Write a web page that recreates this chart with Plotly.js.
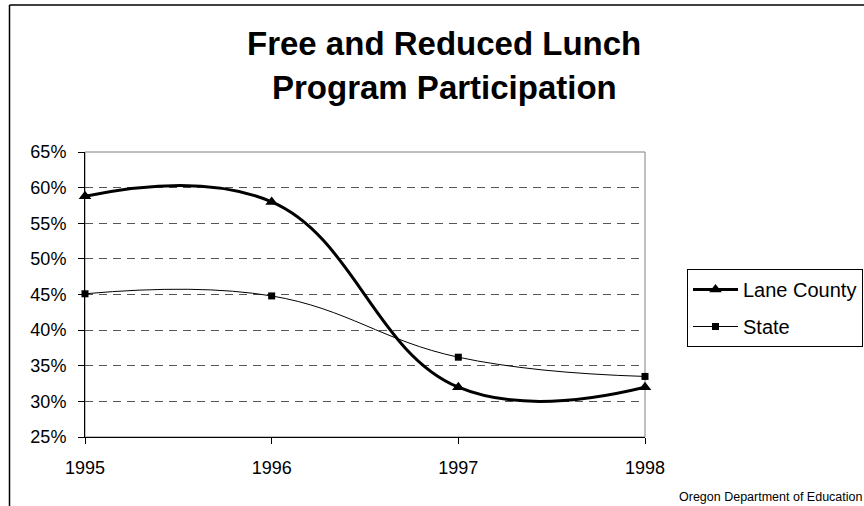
<!DOCTYPE html>
<html>
<head>
<meta charset="utf-8">
<script src="https://cdn.plot.ly/plotly-3.0.1.min.js"></script>
<style>html,body{margin:0;padding:0;background:#fff;}#chart{width:864px;height:506px;}</style>
</head>
<body>
<div id="chart"></div>
<script>
var years = [1995, 1996, 1997, 1998];
var yearLabels = ["1995", "1996", "1997", "1998"];
var laneCounty = [58.8, 58.0, 32.0, 32.0];
var state = [45.1, 44.8, 36.2, 33.5];
var yTickVals = [25, 30, 35, 40, 45, 50, 55, 60, 65];
var yTickText = ["25%", "30%", "35%", "40%", "45%", "50%", "55%", "60%", "65%"];
var titleLine1 = "Free and Reduced Lunch";
var titleLine2 = "Program Participation";
var sourceText = "Oregon Department of Education";

var FONT = "Liberation Sans, Arial, sans-serif";

// plot area in pixels: x 85..645, y 152..437
var L = 85, R = 645, T = 152, B = 437;
function px(x) { return (x - L) / (R - L); }
function py(y) { return (B - y) / (B - T); }

var traces = [
  {
    x: years, y: laneCounty, name: "Lane County", legendgroup: "a",
    mode: "lines+markers", type: "scatter",
    line: {color: "#000", width: 3, shape: "spline", smoothing: 1.2},
    marker: {symbol: "triangle-up", size: 11, color: "#000"},
    cliponaxis: false, hoverinfo: "skip"
  },
  {
    x: years, y: state, name: "State", legendgroup: "b",
    mode: "lines+markers", type: "scatter",
    line: {color: "#000", width: 1, shape: "spline", smoothing: 1.2},
    marker: {symbol: "square", size: 7, color: "#000"},
    cliponaxis: false, hoverinfo: "skip"
  }
];

var layout = {
  width: 864, height: 506,
  margin: {l: L, r: 864 - R, t: T, b: 506 - B, pad: 0, autoexpand: false},
  paper_bgcolor: "#fff", plot_bgcolor: "#fff",
  font: {family: FONT, color: "#000", size: 18},
  showlegend: true,
  legend: {
    x: px(687), y: py(269), xanchor: "left", yanchor: "top",
    bgcolor: "#fff", bordercolor: "#000", borderwidth: 1,
    font: {family: FONT, size: 20, color: "#000"},
    traceorder: "grouped", tracegroupgap: 8, itemwidth: 45
  },
  xaxis: {
    range: [1995, 1998], tickvals: years, ticktext: yearLabels,
    showline: true, linecolor: "#000", linewidth: 1,
    ticks: "outside", ticklen: 6, tickcolor: "#000", tickwidth: 1,
    showgrid: false, zeroline: false, fixedrange: true, ticklabelstandoff: 8,
    automargin: false,
    tickfont: {family: FONT, size: 18, color: "#000"}
  },
  yaxis: {
    range: [25, 65], tickvals: yTickVals, ticktext: yTickText,
    showline: true, linecolor: "#000", linewidth: 1,
    ticks: "outside", ticklen: 6, tickcolor: "#000", tickwidth: 1,
    showgrid: true, gridcolor: "#555", gridwidth: 1, griddash: "8px,6px",
    zeroline: false, fixedrange: true, ticklabelstandoff: 8, automargin: false,
    tickfont: {family: FONT, size: 18, color: "#000"}
  },
  shapes: [
    {type: "rect", xref: "paper", yref: "paper", x0: 0, x1: 1, y0: 0, y1: 1,
     line: {color: "#808080", width: 1}, layer: "between"},
    {type: "line", xref: "paper", yref: "paper", x0: px(9.5), x1: px(9.5), y0: py(5), y1: py(530),
     line: {color: "#000", width: 1.5}, layer: "above"},
    {type: "line", xref: "paper", yref: "paper", x0: px(9.5), x1: px(900), y0: py(5), y1: py(5),
     line: {color: "#000", width: 1.5}, layer: "above"}
  ],
  annotations: [
    {text: "<b>" + titleLine1 + "</b>", xref: "paper", yref: "paper", x: px(444), y: py(44),
     xanchor: "center", yanchor: "middle", showarrow: false,
     font: {family: FONT, size: 33, color: "#000"}},
    {text: "<b>" + titleLine2 + "</b>", xref: "paper", yref: "paper", x: px(444), y: py(88),
     xanchor: "center", yanchor: "middle", showarrow: false,
     font: {family: FONT, size: 33, color: "#000"}},
    {text: sourceText, xref: "paper", yref: "paper", x: px(677), y: py(497),
     xanchor: "left", yanchor: "middle", showarrow: false,
     font: {family: FONT, size: 12.5, color: "#000"}}
  ]
};

Plotly.newPlot("chart", traces, layout, {displayModeBar: false, staticPlot: true});
</script>
</body>
</html>
